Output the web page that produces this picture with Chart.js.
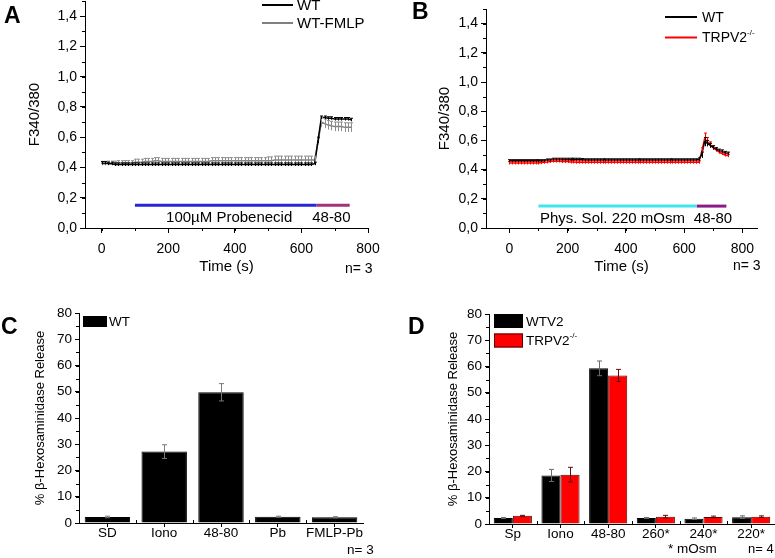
<!DOCTYPE html>
<html>
<head>
<meta charset="utf-8">
<title>Ca2+ imaging and beta-hexosaminidase release</title>
<script src="https://cdn.jsdelivr.net/npm/chart.js@4.4.1/dist/chart.umd.min.js"></script>
<style>
  html, body { margin: 0; padding: 0; background: #fff; }
  #page { position: relative; width: 775px; height: 558px; overflow: hidden; font-family: "Liberation Sans", Arial, sans-serif; color: #000; }
  canvas { position: absolute; }
  .letter { position: absolute; font: bold 23px "Liberation Sans", Arial, sans-serif; line-height: 1; }
  .note { position: absolute; font-size: 14px; line-height: 1; white-space: nowrap; }
</style>
</head>
<body>
<div id="page">
  <canvas id="chartA" width="390" height="280" style="left:0;top:0"></canvas>
  <canvas id="chartB" width="385" height="280" style="left:390px;top:0"></canvas>
  <canvas id="chartC" width="390" height="278" style="left:0;top:280px"></canvas>
  <canvas id="chartD" width="385" height="278" style="left:390px;top:280px"></canvas>
  <div class="letter" style="left:4px;top:4px">A</div>
  <div class="letter" style="left:412px;top:0">B</div>
  <div class="letter" style="left:1px;top:315px">C</div>
  <div class="letter" style="left:408px;top:315px">D</div>
  <div class="note" style="left:345px;top:261px">n= 3</div>
  <div class="note" style="left:733px;top:258px">n= 3</div>
  <div class="note" style="left:347px;top:543px;font-size:13.5px">n= 3</div>
  <div class="note" style="left:668px;top:542px;font-size:13.5px">* mOsm</div>
  <div class="note" style="left:748px;top:542px;font-size:13px">n= 4</div>
</div>
<script>
// time axis of the Fura-2 traces (s)
const timeSec = [0,10,20,30,40,50,60,70,80,90,100,110,120,130,140,150,160,170,180,190,200,210,220,230,240,250,260,270,280,290,300,310,320,330,340,350,360,370,380,390,400,410,420,430,440,450,460,470,480,490,500,510,520,530,540,550,560,570,580,590,600,610,620,630,640,650,660,670,680,690,700,710,720,730,740,750];

// panel A: WT vs WT-FMLP (F340/380)
const wtA = [0.43,0.43,0.425,0.425,0.42,0.42,0.42,0.42,0.42,0.42,
  0.42,0.42,0.42,0.42,0.42,0.42,0.42,0.42,0.42,0.42,
  0.42,0.42,0.42,0.42,0.42,0.42,0.42,0.42,0.42,0.42,
  0.42,0.42,0.42,0.42,0.42,0.42,0.42,0.42,0.42,0.42,
  0.42,0.42,0.42,0.42,0.42,0.42,0.42,0.42,0.42,0.42,
  0.42,0.42,0.42,0.42,0.42,0.42,0.42,0.42,0.42,0.42,
  0.42,0.42,0.42,0.42,0.425,
  0.58,0.73,0.73,0.725,0.725,0.72,0.72,0.72,0.72,0.72,0.715];
const wtErrA = [0.01,0.01,0.01,0.01,0.01,0.01,0.01,0.01,0.01,0.01,
  0.01,0.01,0.01,0.01,0.01,0.01,0.01,0.01,0.01,0.01,
  0.01,0.01,0.01,0.01,0.01,0.01,0.01,0.01,0.01,0.01,
  0.01,0.01,0.01,0.01,0.01,0.01,0.01,0.01,0.01,0.01,
  0.01,0.01,0.01,0.01,0.01,0.01,0.01,0.01,0.01,0.01,
  0.01,0.01,0.01,0.01,0.01,0.01,0.01,0.01,0.01,0.01,
  0.01,0.01,0.01,0.01,0.01,
  0.02,0.01,0.01,0.01,0.01,0.01,0.01,0.01,0.01,0.01,0.01];
const fmlpA = [0.425,0.425,0.43,0.43,0.43,0.43,0.43,0.43,0.43,0.43,
  0.435,0.435,0.435,0.44,0.44,0.44,0.445,0.445,0.44,0.44,
  0.44,0.44,0.44,0.44,0.44,0.44,0.44,0.44,0.44,0.44,
  0.44,0.44,0.44,0.445,0.445,0.445,0.445,0.445,0.445,0.445,
  0.445,0.445,0.445,0.445,0.445,0.445,0.445,0.445,0.445,0.445,
  0.445,0.445,0.45,0.45,0.45,0.45,0.45,0.45,0.45,0.45,
  0.45,0.45,0.45,0.45,0.45,
  0.57,0.70,0.69,0.68,0.675,0.67,0.67,0.67,0.665,0.665,0.665];
const fmlpErrA = [0.01,0.01,0.012,0.012,0.012,0.015,0.015,0.015,0.015,0.015,
  0.02,0.02,0.02,0.02,0.02,0.02,0.02,0.02,0.02,0.02,
  0.02,0.02,0.02,0.02,0.02,0.02,0.02,0.02,0.02,0.02,
  0.02,0.02,0.02,0.02,0.02,0.02,0.02,0.02,0.02,0.02,
  0.02,0.02,0.02,0.02,0.02,0.02,0.02,0.02,0.02,0.02,
  0.025,0.025,0.025,0.025,0.025,0.025,0.025,0.025,0.025,0.025,
  0.025,0.025,0.025,0.025,0.025,
  0.02,0.03,0.03,0.03,0.03,0.03,0.03,0.03,0.03,0.03,0.03];

// panel B: WT vs TRPV2-/- in hypotonic solution
const wtB = [0.46,0.46,0.46,0.46,0.46,0.46,0.46,0.46,0.46,0.46,
  0.46,0.46,0.46,0.465,0.465,0.47,0.47,0.47,0.47,0.47,
  0.47,0.47,0.47,0.47,0.47,0.468,0.466,0.466,0.466,0.466,
  0.466,0.466,0.466,0.466,0.466,0.466,0.466,0.466,0.466,0.466,
  0.466,0.466,0.466,0.466,0.466,0.466,0.466,0.466,0.466,0.466,
  0.466,0.466,0.466,0.466,0.466,0.466,0.466,0.466,0.466,0.466,
  0.466,0.466,0.466,0.466,0.466,
  0.47,0.50,0.59,0.58,0.565,0.55,0.54,0.53,0.525,0.515,0.51];
const wtErrB = [0.008,0.008,0.008,0.008,0.008,0.008,0.008,0.008,0.008,0.008,
  0.008,0.008,0.008,0.008,0.008,0.008,0.008,0.008,0.008,0.008,
  0.008,0.008,0.008,0.008,0.008,0.008,0.008,0.008,0.008,0.008,
  0.008,0.008,0.008,0.008,0.008,0.008,0.008,0.008,0.008,0.008,
  0.008,0.008,0.008,0.008,0.008,0.008,0.008,0.008,0.008,0.008,
  0.008,0.008,0.008,0.008,0.008,0.008,0.008,0.008,0.008,0.008,
  0.008,0.008,0.008,0.008,0.008,
  0.01,0.02,0.03,0.02,0.015,0.012,0.01,0.01,0.01,0.01,0.01];
const trpB = [0.445,0.445,0.445,0.445,0.445,0.445,0.445,0.445,0.445,0.445,
  0.445,0.448,0.45,0.452,0.455,0.458,0.458,0.458,0.455,0.455,
  0.455,0.452,0.452,0.45,0.45,0.45,0.45,0.45,0.45,0.45,
  0.45,0.45,0.45,0.45,0.45,0.45,0.45,0.45,0.45,0.45,
  0.45,0.45,0.45,0.45,0.45,0.45,0.45,0.45,0.45,0.45,
  0.45,0.45,0.45,0.45,0.45,0.45,0.45,0.45,0.45,0.45,
  0.45,0.45,0.45,0.45,0.45,
  0.45,0.52,0.61,0.59,0.57,0.55,0.535,0.52,0.51,0.50,0.495];
const trpErrB = [0.01,0.01,0.01,0.01,0.01,0.01,0.01,0.01,0.01,0.01,
  0.01,0.01,0.01,0.01,0.01,0.01,0.01,0.01,0.01,0.01,
  0.01,0.01,0.01,0.01,0.01,0.01,0.01,0.01,0.01,0.01,
  0.01,0.01,0.01,0.01,0.01,0.01,0.01,0.01,0.01,0.01,
  0.01,0.01,0.01,0.01,0.01,0.01,0.01,0.01,0.01,0.01,
  0.01,0.01,0.01,0.01,0.01,0.01,0.01,0.01,0.01,0.01,
  0.01,0.01,0.01,0.01,0.01,
  0.01,0.03,0.04,0.03,0.02,0.015,0.012,0.012,0.01,0.01,0.01];

// application bars under the traces (s) and their level on the y axis
const probenecidSpan = [100, 645];
const stimSpanA = [645, 745];
const hypoSpan = [100, 643];
const stimSpanB = [643, 745];
const applLevel = 0.15;

// panel C: beta-hexosaminidase release, WT
const catsC = ['SD', 'Iono', '48-80', 'Pb', 'FMLP-Pb'];
const wtC = [2.3, 27.2, 49.8, 2.4, 2.2];
const wtErrC = [0.3, 2.6, 3.3, 0.2, 0.2];

// panel D: WTV2 vs TRPV2-/-
const catsD = ['Sp', 'Iono', '48-80', '260*', '240*', '220*'];
const wtv2D = [2.3, 18.5, 59.3, 2.3, 2.0, 2.6];
const wtv2ErrD = [0.2, 2.3, 2.8, 0.2, 0.3, 0.5];
const trpD = [3.1, 18.8, 56.6, 2.8, 2.7, 2.8];
const trpErrD = [0.2, 2.8, 2.3, 0.5, 0.3, 0.3];

const FONT = '"Liberation Sans", Arial, sans-serif';
Chart.defaults.font.family = FONT;
Chart.defaults.color = '#000';

const toPoints = (xs, ys) => xs.map((x, i) => ({ x: x, y: ys[i] }));
const span = (s) => [{ x: s[0], y: applLevel }, { x: s[1], y: applLevel }];
const comma = (v) => v.toFixed(1).replace('.', ',');

// vertical error bars, works for line points and bars
const errorBars = {
  id: 'errorBars',
  afterDatasetsDraw(chart, args, opts) {
    const ctx = chart.ctx;
    const ys = chart.scales.y;
    const cap = opts.cap || 2;
    for (let i = chart.data.datasets.length - 1; i >= 0; i--) {
      const ds = chart.data.datasets[i];
      if (!ds.errors) continue;
      const meta = chart.getDatasetMeta(i);
      ctx.save();
      ctx.strokeStyle = ds.errorColor || ds.borderColor;
      ctx.lineWidth = 1;
      ctx.beginPath();
      meta.data.forEach((el, j) => {
        const raw = ds.data[j];
        const v = typeof raw === 'object' ? raw.y : raw;
        const e = ds.errors[j];
        const x = Math.round(el.x) + 0.5;
        const top = ys.getPixelForValue(v + e);
        const bot = ys.getPixelForValue(v - e);
        ctx.moveTo(x, top); ctx.lineTo(x, bot);
        ctx.moveTo(x - cap, top); ctx.lineTo(x + cap, top);
        if (opts.both) { ctx.moveTo(x - cap, bot); ctx.lineTo(x + cap, bot); }
      });
      ctx.stroke();
      ctx.restore();
    }
  }
};

// small Origin-style minor ticks
const minorTicks = {
  id: 'minorTicks',
  afterDraw(chart, args, opts) {
    const ctx = chart.ctx;
    const { x: xs, y: ys } = chart.scales;
    ctx.save();
    ctx.strokeStyle = '#000';
    ctx.lineWidth = 1;
    ctx.beginPath();
    if (opts.y) {
      const n = Math.floor((ys.max - ys.min) / opts.y + 1e-6);
      for (let k = 0; k <= n; k++) {
        const py = Math.round(ys.getPixelForValue(ys.min + k * opts.y)) + 0.5;
        ctx.moveTo(ys.right, py); ctx.lineTo(ys.right - 3, py);
      }
    }
    if (opts.x) {
      const first = Math.ceil(xs.min / opts.x);
      const last = Math.floor(xs.max / opts.x);
      for (let k = first; k <= last; k++) {
        const px = Math.round(xs.getPixelForValue(k * opts.x)) + 0.5;
        ctx.moveTo(px, xs.top); ctx.lineTo(px, xs.top + 3);
      }
    }
    if (opts.categories) {
      const n = chart.data.labels.length;
      for (let k = 1; k < n; k++) {
        const px = Math.round((xs.getPixelForValue(k - 1) + xs.getPixelForValue(k)) / 2) + 0.5;
        ctx.moveTo(px, xs.top); ctx.lineTo(px, xs.top - 3);
      }
    }
    ctx.stroke();
    ctx.restore();
  }
};

// legend drawn inside the plot like the original figure
const panelLegend = {
  id: 'panelLegend',
  afterDraw(chart, args, opts) {
    if (!opts.x) return;
    const ctx = chart.ctx;
    ctx.save();
    ctx.font = opts.size + 'px ' + FONT;
    ctx.textBaseline = 'middle';
    let y = opts.y;
    chart.data.datasets.forEach((ds) => {
      if (ds.inLegend === false) return;
      if (opts.kind === 'line') {
        ctx.strokeStyle = ds.borderColor;
        ctx.lineWidth = 2;
        ctx.beginPath();
        ctx.moveTo(opts.x, y); ctx.lineTo(opts.x + opts.w, y);
        ctx.stroke();
      } else {
        ctx.fillStyle = ds.backgroundColor;
        ctx.fillRect(opts.x, y - opts.h / 2, opts.w, opts.h);
        ctx.strokeStyle = ds.borderColor;
        ctx.lineWidth = 1;
        ctx.strokeRect(opts.x + 0.5, y - opts.h / 2 + 0.5, opts.w - 1, opts.h - 1);
      }
      ctx.fillStyle = '#000';
      const tx = opts.x + opts.w + opts.gap;
      const sup = ds.label.endsWith('-/-');
      const base = sup ? ds.label.slice(0, -3) : ds.label;
      ctx.fillText(base, tx, y + 1);
      if (sup) {
        const bw = ctx.measureText(base).width;
        ctx.font = Math.round(opts.size * 0.6) + 'px ' + FONT;
        ctx.fillText('-/-', tx + bw, y - opts.size * 0.35);
        ctx.font = opts.size + 'px ' + FONT;
      }
      y += opts.step;
    });
    ctx.restore();
  }
};

// text written at data coordinates under the application bars
const spanLabels = {
  id: 'spanLabels',
  afterDraw(chart, args, opts) {
    if (!opts.items) return;
    const ctx = chart.ctx;
    ctx.save();
    ctx.font = opts.size + 'px ' + FONT;
    ctx.fillStyle = '#000';
    ctx.textAlign = 'center';
    ctx.textBaseline = 'middle';
    opts.items.forEach((it) => {
      ctx.fillText(it.text, chart.scales.x.getPixelForValue(it.x), chart.scales.y.getPixelForValue(it.y));
    });
    ctx.restore();
  }
};

Chart.register(errorBars, minorTicks, panelLegend, spanLabels);

function traceOptions(yAxisWidth, padRight, padTop, titleOffset, xMin, xMax, legendOpts, labelItems) {
  return {
    responsive: false,
    animation: false,
    events: [],
    layout: { padding: { left: 0, top: padTop, right: padRight, bottom: 0 } },
    plugins: {
      legend: { display: false },
      tooltip: { enabled: false },
      errorBars: { cap: 1.5 },
      minorTicks: { x: 100, y: 0.1 },
      panelLegend: legendOpts,
      spanLabels: { size: 15, items: labelItems }
    },
    scales: {
      x: {
        type: 'linear', min: xMin, max: xMax,
        border: { color: '#000', width: 1 },
        grid: { drawOnChartArea: false, color: '#000', tickLength: 5 },
        ticks: { stepSize: 200, includeBounds: false, padding: 8, maxRotation: 0, font: { size: 14 } },
        title: { display: true, text: 'Time (s)', font: { size: 15 }, padding: { top: 0, bottom: 4 } },
        afterFit(s) { s.height = 52; s.paddingLeft = 0; s.paddingRight = 0; }
      },
      y: {
        min: 0, max: 1.5,
        border: { color: '#000', width: 1 },
        grid: { drawOnChartArea: false, color: '#000', tickLength: 5 },
        ticks: { stepSize: 0.2, includeBounds: false, padding: 3, font: { size: 14 }, callback: (v) => comma(v) },
        title: { display: true, text: 'F340/380', font: { size: 15 }, padding: { top: titleOffset, bottom: 0 } },
        afterFit(s) { s.width = yAxisWidth; s.paddingTop = 0; s.paddingBottom = 0; }
      }
    }
  };
}

new Chart(document.getElementById('chartA'), {
  type: 'line',
  data: {
    datasets: [
      { label: 'WT', data: toPoints(timeSec, wtA), errors: wtErrA, borderColor: '#000000', errorColor: '#000000', borderWidth: 1.5, pointRadius: 0 },
      { label: 'WT-FMLP', data: toPoints(timeSec, fmlpA), errors: fmlpErrA, borderColor: '#808080', errorColor: '#8c8c8c', borderWidth: 1.5, pointRadius: 0 },
      { label: 'Probenecid', inLegend: false, data: span(probenecidSpan), borderColor: '#2626d9', borderWidth: 3, pointRadius: 0 },
      { label: '48-80', inLegend: false, data: span(stimSpanA), borderColor: '#a3307a', borderWidth: 3, pointRadius: 0 }
    ]
  },
  options: traceOptions(85, 22, 1, 26, -50, 800,
    { kind: 'line', x: 262, y: 5, w: 31, gap: 4, step: 18, size: 15 },
    [{ text: '100\u00b5M Probenecid', x: 383, y: 0.065 }, { text: '48-80', x: 690, y: 0.065 }])
});

new Chart(document.getElementById('chartB'), {
  type: 'line',
  data: {
    datasets: [
      { label: 'WT', data: toPoints(timeSec, wtB), errors: wtErrB, borderColor: '#000000', errorColor: '#000000', borderWidth: 1.5, pointRadius: 0 },
      { label: 'TRPV2-/-', data: toPoints(timeSec, trpB), errors: trpErrB, borderColor: '#ff0000', errorColor: '#ff0000', borderWidth: 1.5, pointRadius: 0 },
      { label: 'Phys. Sol.', inLegend: false, data: span(hypoSpan), borderColor: '#3ee6ee', borderWidth: 3, pointRadius: 0 },
      { label: '48-80', inLegend: false, data: span(stimSpanB), borderColor: '#8a1c8a', borderWidth: 3, pointRadius: 0 }
    ]
  },
  options: traceOptions(96, 18, 9, 46, -80, 850,
    { kind: 'line', x: 275, y: 17, w: 32, gap: 5, step: 20.5, size: 14 },
    [{ text: 'Phys. Sol. 220 mOsm', x: 354, y: 0.066 }, { text: '48-80', x: 699, y: 0.066 }])
});

function barOptions(yAxisWidth, padRight, padTop, xHeight, titleOffset, legendOpts) {
  return {
    responsive: false,
    animation: false,
    events: [],
    layout: { padding: { left: 0, top: padTop, right: padRight, bottom: 0 } },
    plugins: {
      legend: { display: false },
      tooltip: { enabled: false },
      errorBars: { cap: 2.5, both: true },
      minorTicks: { y: 5, categories: true },
      panelLegend: legendOpts
    },
    scales: {
      x: {
        border: { color: '#000', width: 1 },
        grid: { drawOnChartArea: false, color: '#000', tickLength: 4, offset: false },
        ticks: { padding: -2, maxRotation: 0, autoSkip: false, font: { size: 13.5 } },
        afterFit(s) { s.height = xHeight; s.paddingLeft = 0; s.paddingRight = 0; }
      },
      y: {
        min: 0, max: 80,
        border: { color: '#000', width: 1 },
        grid: { drawOnChartArea: false, color: '#000', tickLength: 4 },
        ticks: { stepSize: 10, padding: 3, font: { size: 13.5 } },
        title: { display: true, text: '% \u03b2-Hexosaminidase Release', font: { size: 13 }, padding: { top: titleOffset, bottom: 0 } },
        afterFit(s) { s.width = yAxisWidth; s.paddingTop = 0; s.paddingBottom = 0; }
      }
    }
  };
}

new Chart(document.getElementById('chartC'), {
  type: 'bar',
  data: {
    labels: catsC,
    datasets: [
      { label: 'WT', data: wtC, errors: wtErrC, backgroundColor: '#000000', borderColor: '#000000', errorColor: '#7a7a7a', borderWidth: 1, barPercentage: 0.8, categoryPercentage: 1 }
    ]
  },
  options: barOptions(79, 27, 33, 35, 33,
    { kind: 'box', x: 83, y: 41.5, w: 24, h: 11, gap: 2, step: 20, size: 13.5 })
});

new Chart(document.getElementById('chartD'), {
  type: 'bar',
  data: {
    labels: catsD,
    datasets: [
      { label: 'WTV2', data: wtv2D, errors: wtv2ErrD, backgroundColor: '#000000', borderColor: '#000000', errorColor: '#6a6a6a', borderWidth: 1, barPercentage: 1, categoryPercentage: 0.8 },
      { label: 'TRPV2-/-', data: trpD, errors: trpErrD, backgroundColor: '#ff0000', borderColor: '#5a0000', errorColor: '#5a1010', borderWidth: 1, barPercentage: 1, categoryPercentage: 0.8 }
    ]
  },
  options: barOptions(99, 0, 34, 34, 56,
    { kind: 'box', x: 104, y: 41, w: 29, h: 14, gap: 3, step: 19.5, size: 13.5 })
});
</script>
</body>
</html>
